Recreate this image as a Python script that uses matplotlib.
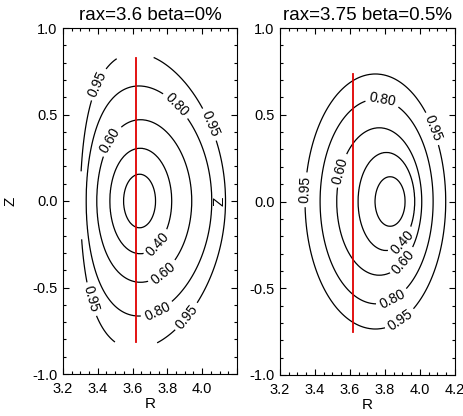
import numpy as np
import matplotlib
matplotlib.use('Agg')
import matplotlib.pyplot as plt
from matplotlib.ticker import MultipleLocator

plt.rcParams['font.family'] = ['Liberation Sans', 'DejaVu Sans']
plt.rcParams['axes.unicode_minus'] = False

# flux surface levels (normalised radius)
levels = [0.2, 0.4, 0.6, 0.8, 0.95]

# left panel: rax=3.6 beta=0% -- surface centre, half width, half height, top shift
left_rc = [3.640, 3.647, 3.667, 3.694, 3.717]
left_a = [0.092, 0.178, 0.273, 0.361, 0.417]
left_b = [0.155, 0.305, 0.470, 0.665, 0.855]
left_tri = [0.0, 0.02, 0.08, 0.16, 0.245]

# right panel: rax=3.75 beta=0.5%
right_rc = [3.829, 3.808, 3.767, 3.752, 3.745]
right_a = [0.086, 0.162, 0.243, 0.323, 0.402]
right_b = [0.143, 0.283, 0.425, 0.590, 0.735]
right_tri = [0.0, 0.0, 0.0, 0.0, 0.0]

# red chord (R, Zmin, Zmax)
left_chord = [3.62, -0.815, 0.827]
right_chord = [3.62, -0.750, 0.735]

titles = ['rax=3.6 beta=0%', 'rax=3.75 beta=0.5%']

# gaps in the outer surface of the left panel (Rmin, Rmax, Zmin, Zmax)
left_gaps = [(3.51, 3.72, 0.70, 1.0), (3.50, 3.74, -1.0, -0.70), (3.0, 3.315, -0.22, 0.17)]
right_gaps = []

# label positions (R, Z)
left_lab = [(3.413, 0.67), (3.863, 0.566), (4.065, 0.45), (3.47, 0.35),
            (3.74, -0.245), (3.78, -0.42), (3.74, -0.63), (3.355, -0.57), (3.90, -0.66)]
right_lab = [(3.354, 0.067), (3.543, 0.18), (3.79, 0.6), (4.086, 0.425),
             (3.897, -0.23), (3.914, -0.355), (3.84, -0.556), (3.87, -0.655)]


def surface_field(R, Z, rc, a, b, tri):
    n = len(levels)
    G = []
    for i in range(n):
        zz = (Z / b[i]) ** 2
        xx = (R - rc[i] + tri[i] * a[i] * zz) / a[i]
        G.append(np.sqrt(xx ** 2 + zz))
    rho = levels[-1] * G[-1]
    for i in range(n - 1):
        m = (G[i] >= 1) & (G[i + 1] < 1)
        frac = (G[i] - 1) / (G[i] - G[i + 1])
        rho[m] = levels[i] + (levels[i + 1] - levels[i]) * frac[m]
    m0 = G[0] < 1
    rho[m0] = levels[0] * G[0][m0]
    return rho


def panel(ax, rc, a, b, tri, chord, gaps, labs, title, hide_last):
    r = np.linspace(3.2, 4.2, 500)
    z = np.linspace(-1.0, 1.0, 800)
    R, Z = np.meshgrid(r, z)
    rho = surface_field(R, Z, rc, a, b, tri)
    for g in gaps:
        rho[(R > g[0]) & (R < g[1]) & (Z > g[2]) & (Z < g[3])] = np.nan
    cs = ax.contour(R, Z, rho, levels=levels, colors='k', linewidths=0.9)
    ax.clabel(cs, manual=labs, fmt='%.2f', fontsize=10, inline=True, inline_spacing=4)
    ax.plot([chord[0], chord[0]], [chord[1], chord[2]], color='#e00000', lw=1.3)

    ax.set_xlim(3.2, 4.2)
    ax.set_ylim(-1.0, 1.0)
    ax.xaxis.set_minor_locator(MultipleLocator(0.05))
    ax.yaxis.set_major_locator(MultipleLocator(0.5))
    ax.yaxis.set_minor_locator(MultipleLocator(0.1))
    xt = np.arange(3.2, 4.21, 0.2)
    ax.set_xticks(xt)
    xl = ['%.1f' % v for v in xt]
    if hide_last:
        xl[-1] = ''
    ax.set_xticklabels(xl)
    ax.tick_params(which='both', direction='in', top=True, right=True, labelsize=10.5, width=0.8)
    ax.tick_params(which='major', length=4.5)
    ax.tick_params(which='minor', length=2.2)
    ax.tick_params(axis='x', pad=6)
    ax.tick_params(axis='y', pad=4)
    for s in ax.spines.values():
        s.set_linewidth(0.8)
    ax.set_title(title, fontsize=13.5, pad=6)
    ax.set_xlabel('R', fontsize=11)
    ax.set_ylabel('Z', fontsize=11)


fig = plt.figure(figsize=(4.64, 4.16), dpi=100)
ax1 = fig.add_axes([63 / 464, 42 / 416, 174 / 464, 346 / 416])
ax2 = fig.add_axes([280 / 464, 41 / 416, 175 / 464, 347 / 416])

panel(ax1, left_rc, left_a, left_b, left_tri, left_chord, left_gaps, left_lab, titles[0], True)
panel(ax2, right_rc, right_a, right_b, right_tri, right_chord, right_gaps, right_lab, titles[1], False)

ax1.yaxis.set_label_coords(-0.259, 0.5)
ax2.yaxis.set_label_coords(-0.303, 0.5)
for ax in (ax1, ax2):
    ax.xaxis.set_label_coords(0.5, -0.066)

fig.savefig('out.png', dpi=100)
